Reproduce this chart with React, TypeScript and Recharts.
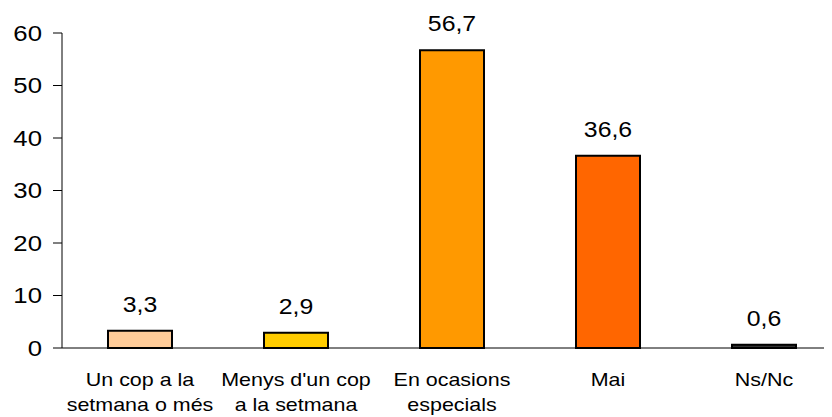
import { Bar, BarChart, Cell, LabelList, XAxis, YAxis } from 'recharts';

const categories = [
    ['Un cop a la', 'setmana o més'],
    ["Menys d'un cop", 'a la setmana'],
    ['En ocasions', 'especials'],
    ['Mai'],
    ['Ns/Nc'],
];
const values = [3.3, 2.9, 56.7, 36.6, 0.6];
const valueLabels = ['3,3', '2,9', '56,7', '36,6', '0,6'];
const barColors = ['#FFCC99', '#FFCC00', '#FF9900', '#FF6600', '#333333'];
const yTicks = [0, 10, 20, 30, 40, 50, 60];
const edgeTicks = [0, 1, 2, 3, 4, 5];

const data = categories.map((lines, i) => ({
    name: lines.join(' '),
    lines,
    value: values[i],
    label: valueLabels[i],
}));

const FONT = '"Liberation Sans", Arial, sans-serif';

function YTick({ x, y, payload }: any) {
    return (
        <text
            transform={`translate(${x},${y}) scale(1.17,1)`}
            textAnchor="end"
            dy="0.36em"
            fontSize={22}
            fontFamily={FONT}
            fill="#000"
        >
            {payload.value}
        </text>
    );
}

function XTick({ x, y, index }: any) {
    const lines: string[] = data[index]?.lines ?? [];
    return (
        <g>
            {lines.map((line, i) => (
                <text
                    key={i}
                    transform={`translate(${x},${y + 38 + i * 25}) scale(1.16,1)`}
                    textAnchor="middle"
                    fontSize={18.5}
                    fontFamily={FONT}
                    fill="#000"
                >
                    {line}
                </text>
            ))}
        </g>
    );
}

function ValueLabel({ x, y, width, index }: any) {
    return (
        <text
            transform={`translate(${x + width / 2},${y - 19}) scale(1.13,1)`}
            textAnchor="middle"
            fontSize={22}
            fontFamily={FONT}
            fill="#000"
        >
            {data[index].label}
        </text>
    );
}

export default function App() {
    return (
        <div style={{ width: 824, overflow: 'hidden' }}>
            <BarChart
                width={840}
                height={409}
                data={data}
                margin={{ top: 25, right: 6, bottom: 0, left: 0 }}
            >
                <XAxis
                    xAxisId="edge"
                    type="number"
                    domain={[0, 5]}
                    ticks={edgeTicks}
                    tick={false}
                    tickSize={6}
                    tickLine={{ stroke: '#000' }}
                    axisLine={false}
                    height={0}
                    allowDataOverflow
                />
                <XAxis
                    xAxisId="cat"
                    dataKey="name"
                    interval={0}
                    tickLine={false}
                    tickSize={0}
                    tickMargin={0}
                    axisLine={{ stroke: '#000' }}
                    tick={<XTick />}
                    height={69}
                />
                <YAxis
                    domain={[0, 60]}
                    ticks={yTicks}
                    width={54}
                    tickSize={9}
                    tickMargin={11}
                    axisLine={{ stroke: '#000' }}
                    tickLine={{ stroke: '#000' }}
                    tick={<YTick />}
                    interval={0}
                />
                <Bar
                    xAxisId="cat"
                    dataKey="value"
                    barSize={64}
                    stroke="#000"
                    strokeWidth={2}
                    isAnimationActive={false}
                >
                    {data.map((d, i) => (
                        <Cell key={d.name} fill={barColors[i]} />
                    ))}
                    <LabelList dataKey="label" content={<ValueLabel />} />
                </Bar>
            </BarChart>
        </div>
    );
}
